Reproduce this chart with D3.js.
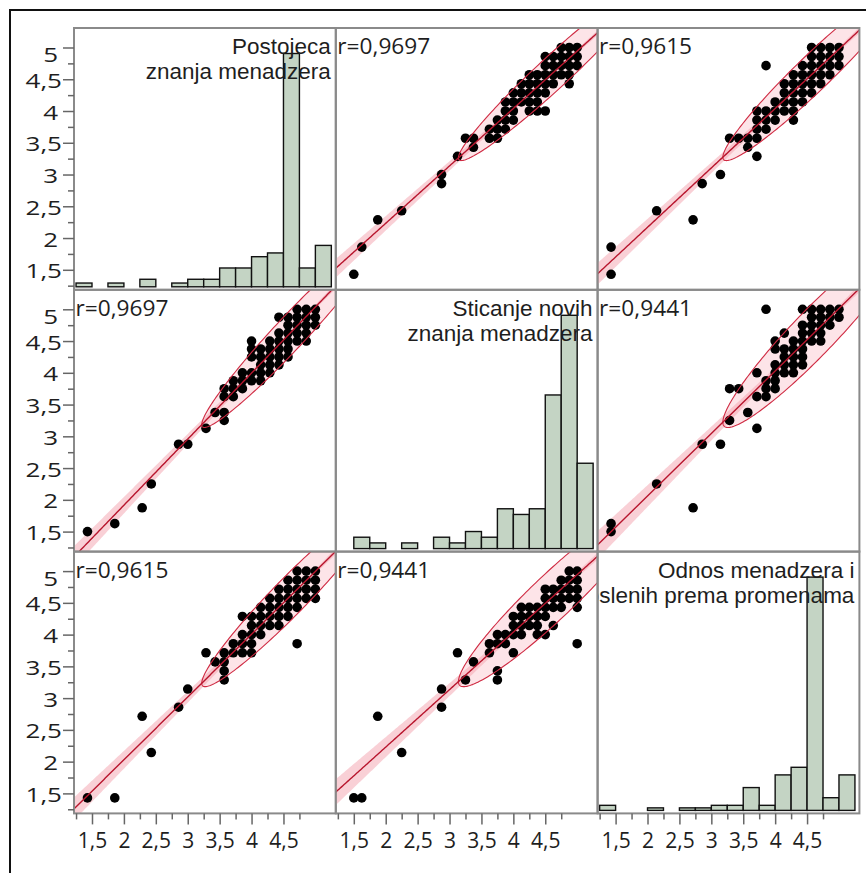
<!DOCTYPE html>
<html><head><meta charset="utf-8">
<script src="https://cdn.jsdelivr.net/npm/d3@7"></script>
<style>body{margin:0;background:#fff}text{font-family:"Open Sans",sans-serif;fill:#1e1e1e}</style>
</head><body><svg id="c" width="866" height="873"></svg>
<script>
// ---------- DATA ----------
const titleLines = [["Postojeca","znanja menadzera"],["Sticanje novih","znanja menadzera"],["Odnos menadzera i","zaposlenih prema promenama"]];
const corrAB = 0.9697, corrAC = 0.9615, corrBC = 0.9441;
const means = [4.60, 4.62, 4.60];
const sds = [0.564, 0.605, 0.58];
const nObs = 114;
const binStarts = [1.25,1.5,1.75,2.0,2.25,2.5,2.75,3.0,3.25,3.5,3.75,4.0,4.25,4.5,4.75,5.0];
const histA = [1,0,1,0,2,0,1,2,2,5,5,8,9,62,5,11];
const histB = [0,2,1,0,1,0,2,1,3,2,7,6,7,27,41,15];
const histC = [2,0,0,1,0,1,1,2,2,9,2,14,17,92,5,14];
const majorTicks = [1.5,2,2.5,3,3.5,4,4.5,5];
const yTickValues = [1.25,1.5,1.75,2,2.25,2.5,2.75,3,3.25,3.5,3.75,4,4.25,4.5,4.75,5];
const xTickValues = [1.25,1.5,1.75,2,2.25,2.5,2.75,3,3.25,3.5,3.75,4,4.25,4.5,4.75];
// pairs [A, B]
const pairsAB = [[1.429,1.5],[1.857,1.625],[2.286,1.875],[2.429,2.25],[2.857,2.875],[3.0,2.875],[3.286,3.125],[3.429,3.375],[3.571,3.375],[3.571,3.25],
[3.571,3.625],[3.571,3.75],[3.714,3.625],[3.714,3.75],[3.857,3.75],[3.857,3.875],[4.0,3.875],[4.0,4.0],[4.143,4.0],[4.286,4.0],[4.0,4.25],[4.0,4.375],[4.0,4.5],
[4.143,4.125],[4.286,4.125],[4.286,4.25],[4.143,4.25],[4.286,4.375],[4.429,4.25],[4.429,4.375],[4.429,4.5],[4.429,4.625],[4.571,4.25],[4.571,4.375],[4.571,4.5],
[4.571,4.625],[4.571,4.75],[4.571,4.875],[4.714,4.5],[4.714,4.625],[4.714,4.75],[4.714,4.875],[4.714,5.0],[4.857,4.75],[4.857,4.875],[4.857,5.0],[5.0,5.0],[4.429,4.875],[4.857,4.625],
[3.714,3.875],[3.857,4.0],[4.143,4.375],[4.286,4.5],[4.429,4.125],[4.857,4.5],[5.0,4.875],[5.0,4.75],[4.143,3.875]];
// pairs [A, C]
const pairsAC = [[1.429,1.429],[1.857,1.429],[2.286,2.714],[2.429,2.143],[2.857,2.857],[3.0,3.143],[3.286,3.714],[3.429,3.571],[3.571,3.714],[3.571,3.571],[3.571,3.429],[3.571,3.286],
[3.714,3.857],[3.714,3.714],[3.857,4.286],[3.857,4.0],[3.857,3.714],[4.0,3.714],[4.0,3.857],[4.0,4.0],[4.0,4.143],[4.143,4.0],[4.143,4.143],[4.143,4.286],[4.143,4.429],
[4.286,4.286],[4.286,4.429],[4.286,4.143],[4.429,4.429],[4.429,4.286],[4.429,4.143],[4.571,4.571],[4.571,4.429],[4.571,4.286],[4.714,3.857],[4.714,4.714],[4.714,4.571],
[4.714,4.429],[4.857,4.857],[4.857,4.714],[4.857,5.0],[4.857,4.571],[5.0,5.0],[5.0,4.857],[5.0,4.714],[5.0,4.571],[4.571,4.714],[4.714,4.857],
[3.857,3.857],[4.0,4.286],[4.286,4.571],[4.429,4.571],[4.571,4.857],[4.714,5.0],[4.429,4.714]];
// pairs [B, C]
const pairsBC = [[1.5,1.429],[1.625,1.429],[1.875,2.714],[2.25,2.143],[2.875,2.857],[2.875,3.143],[3.125,3.714],[3.25,3.286],[3.375,3.571],
[3.625,3.857],[3.625,3.714],[3.75,4.0],[3.75,3.857],[3.75,3.429],[3.75,3.286],[3.875,3.857],[4.0,3.714],[4.0,4.286],[4.0,4.143],[4.0,4.0],[4.125,4.429],[4.125,4.286],
[4.125,4.143],[4.25,4.429],[4.25,4.143],[4.25,4.286],[4.375,4.286],[4.375,4.0],[4.375,4.143],[4.5,4.714],[4.5,4.286],[4.5,4.0],[4.625,4.143],[4.625,4.571],[4.625,4.429],
[4.75,4.714],[4.75,4.571],[4.75,4.429],[4.875,4.857],[4.875,4.714],[4.875,4.571],[5.0,5.0],[5.0,4.857],[5.0,4.714],[5.0,4.429],[5.0,3.857],[4.5,4.571],[4.875,5.0],
[3.875,4.0],[4.125,4.0],[4.375,4.429],[4.625,4.714],[4.75,4.857],[5.0,4.571],[4.5,4.429]];

// ---------- LAYOUT ----------
const P = 261.8, X0 = 74, Y0 = 28;
const xDom = [1.218, 5.32], yDom = [1.185, 5.307];
const svg = d3.select("#c");
svg.append("rect").attr("x",10).attr("y",10).attr("width",900).attr("height",900)
  .attr("fill","none").attr("stroke","#111").attr("stroke-width",2);

const hists = [histA, histB, histC];
function pairsFor(xv, yv){
  const key = [Math.min(xv,yv), Math.max(xv,yv)].join("");
  const src = key==="01"?pairsAB:key==="02"?pairsAC:pairsBC;
  return xv<yv ? src.map(d=>[d[0],d[1]]) : src.map(d=>[d[1],d[0]]);
}
function corrFor(a,b){const k=[Math.min(a,b),Math.max(a,b)].join("");return k==="01"?corrAB:k==="02"?corrAC:corrBC;}
const fmt = v => String(v).replace(".",",");

const defs = svg.append("defs");
for(let i=0;i<3;i++){
  for(let j=0;j<3;j++){
    const x0 = X0 + j*P, y0 = Y0 + i*P;
    const id = `clip${i}${j}`;
    defs.append("clipPath").attr("id",id).append("rect").attr("x",x0).attr("y",y0).attr("width",P).attr("height",P);
    const xs = d3.scaleLinear().domain(xDom).range([x0, x0+P]);
    const ys = d3.scaleLinear().domain(yDom).range([y0+P, y0]);
    const g = svg.append("g").attr("clip-path",`url(#${id})`);
    if(i===j){
      const h = hists[i];
      const base = y0 + P - 3;
      const hy = d3.scaleLinear().domain([0, d3.max(h)]).range([base, y0+25.5]);
      g.selectAll("rect.bar").data(binStarts.map((b,k)=>({b,c:h[k]})).filter(d=>d.c>0)).join("rect")
        .attr("x",d=>xs(d.b)).attr("width",d=>xs(d.b+0.25)-xs(d.b))
        .attr("y",d=>hy(d.c)).attr("height",d=>base-hy(d.c))
        .attr("fill","#c4d4c4").attr("stroke","#111").attr("stroke-width",1.4);
      g.selectAll("text.t").data(titleLines[i]).join("text")
        .attr("x",x0+P-5).attr("y",(d,k)=>y0+26+k*25).attr("text-anchor","end")
        .attr("font-size",22.5)
        .style("font-family","'Liberation Sans', Arial, sans-serif").text(d=>d);
    } else {
      const xv=j, yv=i, r=corrFor(xv,yv);
      const mx=means[xv], my=means[yv], sx=sds[xv], sy=sds[yv];
      const slope = r*sy/sx;
      const sRes = sy*Math.sqrt(1-r*r), tq=1.98;
      const xsGrid = d3.range(xDom[0]-0.05, xDom[1]+0.06, 0.02);
      const hw = x => tq*sRes*Math.sqrt(1/nObs + (x-mx)**2/((nObs-1)*sx*sx));
      const fit = x => my + slope*(x-mx);
      g.append("path").datum(xsGrid)
        .attr("d", d3.area().x(x=>xs(x)).y0(x=>ys(fit(x)-hw(x))).y1(x=>ys(fit(x)+hw(x))))
        .attr("fill","#f4a9b4").attr("fill-opacity",0.55);
      const k = Math.sqrt(5.991);
      const ell = d3.range(0, 2*Math.PI+0.01, Math.PI/120).map(t=>[
        mx + k*sx*Math.cos(t),
        my + k*sy*(r*Math.cos(t) + Math.sqrt(1-r*r)*Math.sin(t))]);
      const ellLine = d3.line().x(d=>xs(d[0])).y(d=>ys(d[1]));
      g.append("path").datum(ell).attr("d", ellLine)
        .attr("fill","#f7a5b2").attr("fill-opacity",0.3).attr("stroke","none");
      const pts = pairsFor(xv,yv);
      g.selectAll("circle").data(pts).join("circle")
        .attr("cx",d=>xs(d[0])).attr("cy",d=>ys(d[1])).attr("r",4.8).attr("fill","#000");
      g.append("path").datum(ell).attr("d", ellLine)
        .attr("fill","none").attr("stroke","#cf2a42").attr("stroke-width",1.1);
      g.append("path").datum(xsGrid)
        .attr("d", d3.line().x(x=>xs(x)).y(x=>ys(fit(x))))
        .attr("fill","none").attr("stroke","#b8162e").attr("stroke-width",1.4);
      g.append("text").attr("x",x0+1.5).attr("y",y0+26).attr("font-size",22.7)
        .text("r=" + fmt(r));
    }
    svg.append("rect").attr("x",x0).attr("y",y0).attr("width",P).attr("height",P)
      .attr("fill","none").attr("stroke","#8a8a8a").attr("stroke-width",2);
  }
}

// ---------- AXES ----------
const isMajor = v => majorTicks.some(m=>Math.abs(m-v)<1e-6);
for(let i=0;i<3;i++){
  const y0 = Y0 + i*P;
  const ys = d3.scaleLinear().domain(yDom).range([y0+P, y0]);
  const ax = svg.append("g").attr("transform",`translate(${X0},0)`)
    .call(d3.axisLeft(ys).tickValues(yTickValues).tickSizeOuter(0).tickFormat(v=>isMajor(v)?fmt(v):""));
  ax.select(".domain").remove();
  ax.selectAll(".tick line").attr("x2",d=>isMajor(d)?-11:-6).attr("stroke","#666").attr("stroke-width",1.5);
  ax.selectAll(".tick text").attr("font-size",20).attr("font-family","Open Sans")
    .attr("fill","#1e1e1e").attr("dy",null).attr("x",0).attr("y",0)
    .attr("transform",d=>`translate(${String(fmt(d)).length===1?-16:-12},${d===5?14:8}) scale(1.3,1)`);
}
for(let j=0;j<3;j++){
  const x0 = X0 + j*P;
  const xs = d3.scaleLinear().domain(xDom).range([x0, x0+P]);
  const ax = svg.append("g").attr("transform",`translate(0,${Y0+3*P})`)
    .call(d3.axisBottom(xs).tickValues(xTickValues).tickSizeOuter(0).tickFormat(v=>isMajor(v)?fmt(v):""));
  ax.select(".domain").remove();
  ax.selectAll(".tick line").attr("y2",d=>isMajor(d)?11:6).attr("stroke","#666").attr("stroke-width",1.5);
  ax.selectAll(".tick text").attr("font-size",21).attr("font-family","Open Sans")
    .attr("fill","#1e1e1e").attr("dy",null).attr("y",35);
}
</script></body></html>
